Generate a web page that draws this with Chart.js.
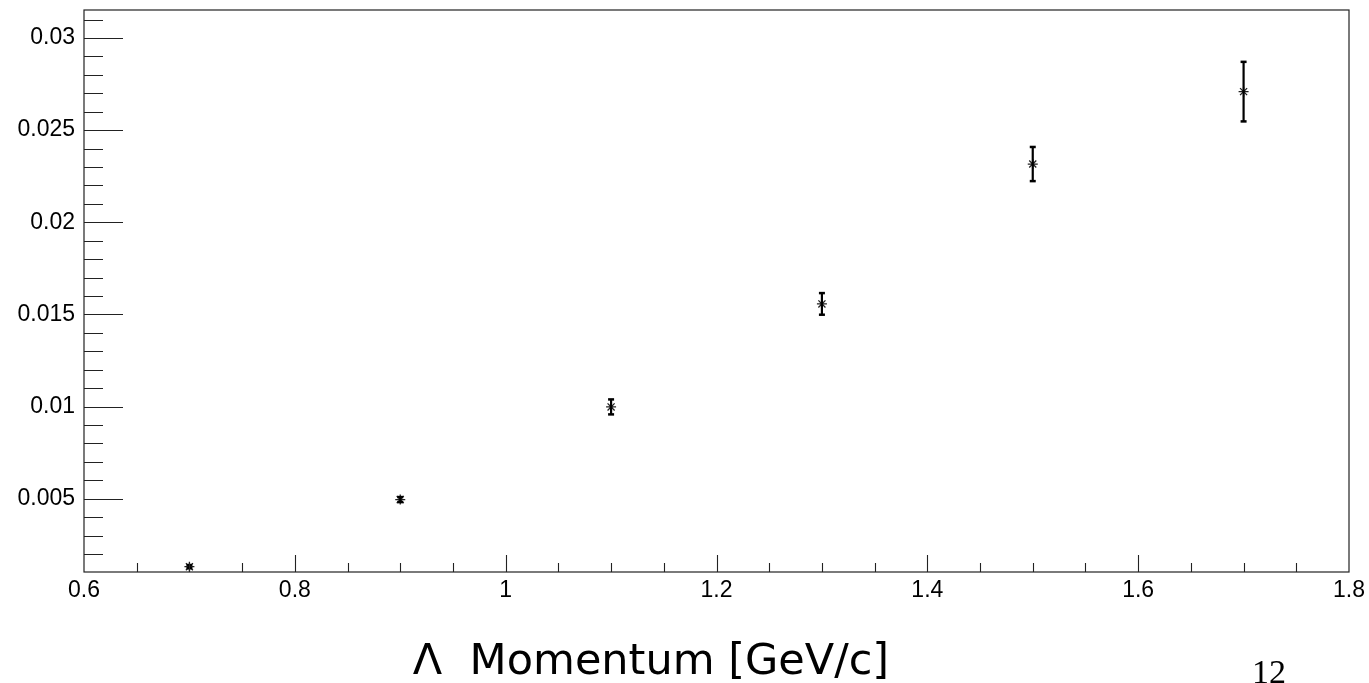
<!DOCTYPE html>
<html>
<head>
<meta charset="utf-8">
<script src="https://cdn.jsdelivr.net/npm/chart.js@4.4.0/dist/chart.umd.min.js"></script>
<style>
html,body{margin:0;padding:0;background:#fff;}
#wrap{width:1369px;height:683px;position:relative;}
</style>
</head>
<body>
<div id="wrap"><canvas id="c" width="1369" height="683"></canvas></div>
<script>
// Data
const momentum = [0.7, 0.9, 1.1, 1.3, 1.5, 1.7];
const values   = [0.00131, 0.00495, 0.00998, 0.01557, 0.02316, 0.02709];
const errors   = [0.0001, 0.00015, 0.00042, 0.0006, 0.00094, 0.00163];
const xTickValues = [0.6, 0.8, 1.0, 1.2, 1.4, 1.6, 1.8];
const xTickLabels = ['0.6', '0.8', '1', '1.2', '1.4', '1.6', '1.8'];
const yTickValues = [0.005, 0.01, 0.015, 0.02, 0.025, 0.03];
const yTickLabels = ['0.005', '0.01', '0.015', '0.02', '0.025', '0.03'];
const xTitle = 'Λ  Momentum [GeV/c]';
const pageNumber = '12';

const X_MIN = 0.6, X_MAX = 1.8, Y_MIN = 0.00102, Y_MAX = 0.03152;

const points = momentum.map((x, i) => ({x: x, y: values[i]}));

const framePlugin = {
  id: 'frame',
  afterDatasetsDraw(chart) {
    const {ctx, chartArea: a, scales: {x, y}} = chart;
    ctx.save();
    // error bars
    ctx.strokeStyle = '#000';
    ctx.fillStyle = '#000';
    momentum.forEach((mx, i) => {
      const px = x.getPixelForValue(mx);
      const top = y.getPixelForValue(values[i] + errors[i]);
      const bot = y.getPixelForValue(values[i] - errors[i]);
      ctx.lineWidth = 2.2;
      ctx.beginPath();
      ctx.moveTo(px, top);
      ctx.lineTo(px, bot);
      ctx.stroke();
      ctx.fillRect(px - 3, top - 1, 6, 2.5);
      ctx.fillRect(px - 3, bot - 1.5, 6, 2.5);
    });
    // frame
    ctx.strokeStyle = '#222';
    ctx.lineWidth = 1.2;
    ctx.strokeRect(a.left, a.top, a.right - a.left, a.bottom - a.top);
    // y ticks (inward)
    ctx.lineWidth = 1.1;
    ctx.beginPath();
    for (let k = 2; k <= 31; k++) {
      const v = k * 0.001;
      const py = Math.round(y.getPixelForValue(v)) + 0.5;
      const len = (k % 5 === 0) ? 39 : 19;
      ctx.moveTo(a.left, py);
      ctx.lineTo(a.left + len, py);
    }
    // x ticks (inward)
    for (let k = 13; k <= 35; k++) {
      const v = k * 0.05;
      const px = Math.round(x.getPixelForValue(v)) + 0.5;
      const len = (k % 4 === 0) ? 17 : 9;
      ctx.moveTo(px, a.bottom);
      ctx.lineTo(px, a.bottom - len);
    }
    ctx.stroke();
    // axis title
    ctx.fillStyle = '#000';
    ctx.font = '43px "DejaVu Sans"';
    ctx.textAlign = 'center';
    ctx.textBaseline = 'alphabetic';
    ctx.fillText(xTitle, 651, 674);
    ctx.font = '34px "Liberation Serif"';
    ctx.textAlign = 'left';
    ctx.fillText(pageNumber, 1252, 683);
    ctx.restore();
  }
};

new Chart(document.getElementById('c'), {
  type: 'scatter',
  data: {
    datasets: [{
      data: points,
      pointStyle: 'star',
      radius: 5,
      borderColor: '#222',
      backgroundColor: '#222',
      borderWidth: 1.3,
      showLine: false
    }]
  },
  options: {
    responsive: false,
    animation: false,
    events: [],
    layout: {padding: {left: 0, top: 10, right: 20, bottom: 0}},
    plugins: {legend: {display: false}, tooltip: {enabled: false}},
    scales: {
      x: {
        type: 'linear', min: X_MIN, max: X_MAX,
        grid: {display: false, drawTicks: false},
        border: {display: false},
        afterBuildTicks(s) { s.ticks = xTickValues.map(v => ({value: v})); },
        afterFit(s) { s.height = 111; s.paddingLeft = 0; s.paddingRight = 0; },
        ticks: {
          autoSkip: false, maxRotation: 0, padding: 5, color: '#000',
          font: {family: '"Liberation Sans"', size: 23},
          callback(v, i) { return xTickLabels[i]; }
        }
      },
      y: {
        type: 'linear', min: Y_MIN, max: Y_MAX,
        grid: {display: false, drawTicks: false},
        border: {display: false},
        afterBuildTicks(s) { s.ticks = yTickValues.map(v => ({value: v})); },
        afterFit(s) { s.width = 84; s.paddingTop = 0; s.paddingBottom = 0; },
        ticks: {
          autoSkip: false, padding: 9, color: '#000',
          font: {family: '"Liberation Sans"', size: 23},
          callback(v, i) { return yTickLabels[i]; }
        }
      }
    }
  },
  plugins: [framePlugin]
});
</script>
</body>
</html>
